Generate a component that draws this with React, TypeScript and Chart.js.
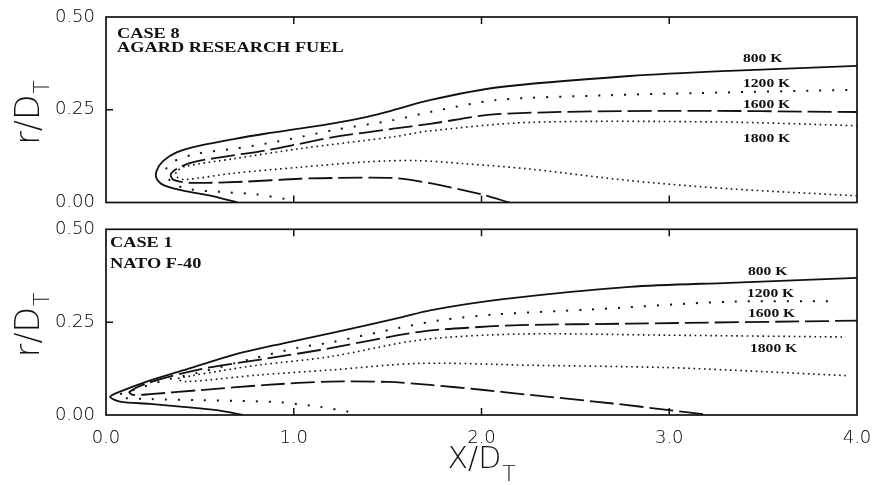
import React, { useEffect, useRef } from 'react';
import { Chart, registerables } from 'chart.js';

Chart.register(...registerables);

type P = [number, number];

// ---- axis ticks / labels ----
const X_TICKS = [0, 1, 2, 3, 4];
const Y_TICKS = [0, 0.25, 0.5];
const ISOTHERMS = ['800 K', '1200 K', '1600 K', '1800 K'];
const CASE8_TITLE = ['CASE 8', 'AGARD RESEARCH FUEL'];
const CASE1_TITLE = ['CASE 1', 'NATO F-40'];

// ---- CASE 8 (top panel) isotherms: [x/DT, r/DT] ----
const CASE8_800K: P[] = [
  [0.70, 0.0], [0.55, 0.019], [0.41, 0.032], [0.31, 0.046], [0.27, 0.064], [0.27, 0.086],
  [0.305, 0.112], [0.376, 0.135], [0.50, 0.153], [0.68, 0.171], [0.855, 0.186], [1.03, 0.199],
  [1.21, 0.213], [1.39, 0.231], [1.53, 0.249], [1.725, 0.276], [2.08, 0.31], [2.79, 0.341],
  [3.32, 0.355], [4.0, 0.368],
];
const CASE8_1200K: P[] = [
  [0.95, 0.01], [0.80, 0.022], [0.625, 0.028], [0.43, 0.037], [0.35, 0.055], [0.315, 0.082],
  [0.35, 0.108], [0.48, 0.131], [0.68, 0.145], [0.856, 0.159], [1.03, 0.176], [1.21, 0.195],
  [1.53, 0.222], [1.726, 0.244], [2.08, 0.276], [2.67, 0.289], [3.15, 0.295], [4.0, 0.304],
];
const CASE8_1600K: P[] = [
  [2.15, 0.0], [1.99, 0.023], [1.726, 0.052], [1.53, 0.066], [1.21, 0.066], [1.03, 0.064],
  [0.73, 0.056], [0.45, 0.053], [0.36, 0.061], [0.345, 0.076], [0.38, 0.092], [0.465, 0.109],
  [0.678, 0.127], [0.856, 0.141], [1.03, 0.158], [1.21, 0.176], [1.53, 0.199], [1.726, 0.212],
  [2.08, 0.238], [2.97, 0.247], [4.0, 0.244],
];
const CASE8_1800K: P[] = [
  [4.0, 0.018], [3.32, 0.037], [2.79, 0.059], [2.26, 0.09], [1.9, 0.105], [1.65, 0.113],
  [1.4, 0.11], [1.03, 0.095], [0.68, 0.079], [0.42, 0.062], [0.375, 0.07], [0.375, 0.083],
  [0.42, 0.097], [0.68, 0.118], [1.03, 0.145], [1.53, 0.177], [1.726, 0.193], [2.26, 0.216],
  [3.27, 0.217], [4.0, 0.207],
];

// ---- CASE 1 (bottom panel) isotherms ----
const CASE1_800K: P[] = [
  [0.73, 0.0], [0.59, 0.013], [0.41, 0.022], [0.234, 0.03], [0.075, 0.036], [0.022, 0.049],
  [0.075, 0.063], [0.217, 0.09], [0.41, 0.12], [0.68, 0.162], [0.944, 0.193], [1.193, 0.22],
  [1.566, 0.262], [1.726, 0.282], [2.116, 0.312], [2.79, 0.345], [3.32, 0.356], [4.0, 0.369],
];
const CASE1_1200K: P[] = [
  [1.29, 0.009], [1.14, 0.022], [0.93, 0.034], [0.70, 0.038], [0.50, 0.040], [0.234, 0.043],
  [0.09, 0.046], [0.065, 0.053], [0.145, 0.067], [0.323, 0.095], [0.50, 0.115], [0.767, 0.15],
  [1.03, 0.182], [1.193, 0.195], [1.566, 0.235], [1.78, 0.255], [2.08, 0.271], [2.58, 0.284],
  [3.32, 0.305], [3.9, 0.306],
];
const CASE1_1600K: P[] = [
  [3.18, 0.002], [3.0, 0.013], [2.70, 0.031], [2.26, 0.054], [2.0, 0.068], [1.726, 0.081],
  [1.5, 0.089], [1.193, 0.09], [0.856, 0.081], [0.50, 0.067], [0.234, 0.056], [0.145, 0.054],
  [0.125, 0.062], [0.217, 0.085], [0.50, 0.123], [0.856, 0.152], [1.14, 0.175], [1.672, 0.224],
  [1.99, 0.237], [2.205, 0.242], [2.79, 0.246], [4.0, 0.254],
];
const CASE1_1800K: P[] = [
  [3.94, 0.106], [3.32, 0.121], [2.97, 0.128], [2.26, 0.134], [1.672, 0.139], [1.193, 0.121],
  [0.82, 0.108], [0.43, 0.09], [0.38, 0.097], [0.45, 0.105], [0.60, 0.118], [0.82, 0.135],
  [1.193, 0.157], [1.672, 0.202], [2.205, 0.218], [2.97, 0.215], [3.94, 0.21],
];

const CASE8_SERIES = [CASE8_800K, CASE8_1200K, CASE8_1600K, CASE8_1800K];
const CASE1_SERIES = [CASE1_800K, CASE1_1200K, CASE1_1600K, CASE1_1800K];

// ---- styles ----
const INK = '#111111';
const LINE_STYLES = [
  { borderWidth: 1.8, borderDash: [] as number[] },
  { borderWidth: 2, borderDash: [2, 11] },
  { borderWidth: 1.8, borderDash: [24, 6] },
  { borderWidth: 1.6, borderDash: [1.6, 3.6] },
];
const SANS = '"DejaVu Sans", sans-serif';
const SERIF = '"Liberation Serif", "Times New Roman", serif';

function drawScaled(ctx: CanvasRenderingContext2D, text: string, x: number, y: number, font: string, sx: number) {
  ctx.save();
  ctx.translate(x, y);
  ctx.scale(sx, 1);
  ctx.font = font;
  ctx.textAlign = 'left';
  ctx.textBaseline = 'alphabetic';
  ctx.fillText(text, 0, 0);
  ctx.restore();
}

const decoPlugin = {
  id: 'deco',
  afterDraw(chart: any, _args: any, opts: any) {
    const { ctx, chartArea: a, scales } = chart;
    const xs = scales.x;
    const ys = scales.y;
    ctx.save();
    ctx.strokeStyle = INK;
    ctx.fillStyle = INK;
    ctx.setLineDash([]);
    ctx.lineWidth = 1.7;
    ctx.strokeRect(a.left, a.top, a.right - a.left, a.bottom - a.top);
    ctx.lineWidth = 1.5;
    ctx.beginPath();
    for (const v of X_TICKS) {
      if (v <= xs.min || v >= xs.max) continue;
      const px = xs.getPixelForValue(v);
      ctx.moveTo(px, a.bottom);
      ctx.lineTo(px, a.bottom - 7);
      ctx.moveTo(px, a.top);
      ctx.lineTo(px, a.top + 7);
    }
    for (const v of Y_TICKS) {
      if (v <= ys.min || v >= ys.max) continue;
      const py = ys.getPixelForValue(v);
      ctx.moveTo(a.left, py);
      ctx.lineTo(a.left + 7, py);
    }
    ctx.stroke();

    // case title (bold serif, horizontally widened like the scan)
    opts.title.forEach((t: string, i: number) => {
      drawScaled(ctx, t, a.left + opts.titleX, a.top + opts.titleY[i], `bold 15px ${SERIF}`, 1.22);
    });
    // isotherm labels
    ISOTHERMS.forEach((t, i) => {
      drawScaled(ctx, t, a.left + opts.labelX[i], a.top + opts.labelY[i], `bold 13px ${SERIF}`, 1.2);
    });

    // y title r/D_T (rotated)
    const cy = (a.top + a.bottom) / 2;
    ctx.save();
    ctx.translate(39, cy + 35);
    ctx.rotate(-Math.PI / 2);
    ctx.textAlign = 'left';
    ctx.textBaseline = 'alphabetic';
    ctx.font = `200 33px ${SANS}`;
    ctx.fillText('r/D', 0, 0);
    const w = ctx.measureText('r/D').width;
    ctx.font = `200 22px ${SANS}`;
    ctx.fillText('T', w + 1, 10);
    ctx.restore();

    if (opts.xTitle) {
      const cx = (a.left + a.right) / 2;
      ctx.save();
      ctx.textAlign = 'left';
      ctx.textBaseline = 'alphabetic';
      ctx.font = `200 30px ${SANS}`;
      ctx.fillText('X/D', cx - 34, a.bottom + 53);
      const w2 = ctx.measureText('X/D').width;
      ctx.font = `200 22px ${SANS}`;
      ctx.fillText('T', cx - 34 + w2 + 1, a.bottom + 66);
      ctx.restore();
    }
    ctx.restore();
  },
};

function makeConfig(series: P[][], padding: any, xAxisHeight: number, deco: any): any {
  const tickFont = { family: SANS, size: 18, weight: 200 as any };
  return {
    type: 'scatter',
    data: {
      datasets: series.map((s, i) => ({
        label: ISOTHERMS[i],
        data: s.map(([x, y]) => ({ x, y })),
        showLine: true,
        pointRadius: 0,
        borderColor: INK,
        backgroundColor: INK,
        tension: 0.3,
        fill: false,
        ...LINE_STYLES[i],
      })),
    },
    options: {
      responsive: false,
      animation: false,
      devicePixelRatio: 1,
      layout: { padding },
      plugins: { legend: { display: false }, tooltip: { enabled: false }, deco },
      scales: {
        x: {
          type: 'linear',
          min: X_TICKS[0],
          max: X_TICKS[X_TICKS.length - 1],
          display: xAxisHeight > 0,
          afterFit: (s: any) => {
            s.height = xAxisHeight;
            s.paddingLeft = 0;
            s.paddingRight = 0;
          },
          ticks: {
            stepSize: 1,
            padding: 13,
            autoSkip: false,
            maxRotation: 0,
            color: '#000',
            font: tickFont,
            callback: (v: any) => Number(v).toFixed(1),
          },
          grid: { display: false, drawTicks: false },
          border: { display: false },
        },
        y: {
          type: 'linear',
          min: Y_TICKS[0],
          max: Y_TICKS[Y_TICKS.length - 1],
          afterFit: (s: any) => {
            s.width = 106;
            s.paddingTop = 0;
            s.paddingBottom = 0;
          },
          ticks: {
            stepSize: 0.25,
            padding: 11,
            color: '#000',
            font: tickFont,
            callback: (v: any) => Number(v).toFixed(2),
          },
          grid: { display: false, drawTicks: false },
          border: { display: false },
        },
      },
    },
    plugins: [decoPlugin],
  };
}

export default function App() {
  const topRef = useRef<HTMLCanvasElement>(null);
  const botRef = useRef<HTMLCanvasElement>(null);

  useEffect(() => {
    const top = new Chart(
      topRef.current as HTMLCanvasElement,
      makeConfig(CASE8_SERIES, { left: 0, right: 19, top: 17, bottom: 13.5 }, 0, {
        title: CASE8_TITLE,
        titleX: 11,
        titleY: [21.3, 34.7],
        labelX: [637, 637, 637, 637],
        labelY: [45, 70, 91, 125],
        xTitle: false,
      })
    );
    const bot = new Chart(
      botRef.current as HTMLCanvasElement,
      makeConfig(CASE1_SERIES, { left: 0, right: 19, top: 13.3, bottom: 0 }, 70, {
        title: CASE1_TITLE,
        titleX: 4,
        titleY: [17.4, 39],
        labelX: [642, 641, 642, 644],
        labelY: [45.7, 67.4, 87.4, 122.7],
        xTitle: true,
      })
    );
    return () => {
      top.destroy();
      bot.destroy();
    };
  }, []);

  return (
    <div style={{ position: 'fixed', left: 0, top: 0, width: 876, height: 485, background: '#fff' }}>
      <canvas ref={topRef} width={876} height={216} style={{ position: 'absolute', left: 0, top: 0, width: 876, height: 216 }} />
      <canvas ref={botRef} width={876} height={269} style={{ position: 'absolute', left: 0, top: 216, width: 876, height: 269 }} />
    </div>
  );
}
